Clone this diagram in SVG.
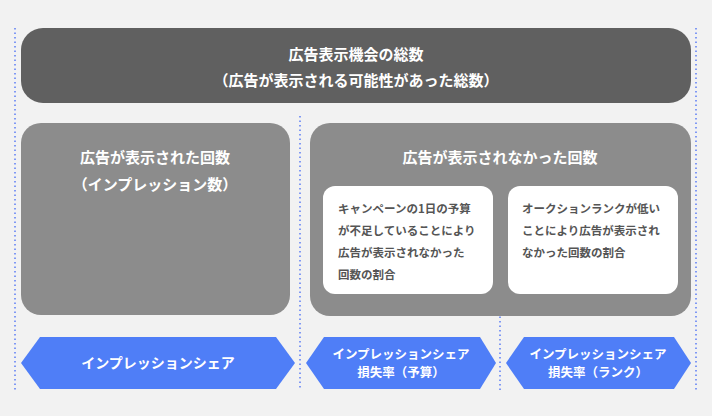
<svg xmlns="http://www.w3.org/2000/svg" width="712" height="416" viewBox="0 0 712 416">
<style>
text{font-family:"Noto Sans CJK JP","Noto Sans",sans-serif;font-weight:bold}
.w{fill:#fff}
.c{text-anchor:middle}
.g{fill:#555;font-size:11.5px}
.dot{stroke:#5b7cf5;stroke-width:1.5;stroke-dasharray:1.5 3;fill:none}
.hex{fill:#4f7ef7}
</style>
<rect width="712" height="416" fill="#f2f2f2"/>
<g id="guides">
<line class="dot" x1="15" y1="28" x2="15" y2="390"/>
<line class="dot" x1="300" y1="116" x2="300" y2="390"/>
<line class="dot" x1="500" y1="186" x2="500" y2="390"/>
<line class="dot" x1="696" y1="28" x2="696" y2="390"/>
</g>
<g id="total">
<rect x="21" y="28" width="670" height="75" rx="22" fill="#606060"/>
<text class="w c" x="356" y="60" font-size="15">広告表示機会の総数</text>
<text class="w c" x="356" y="86" font-size="15">（広告が表示される可能性があった総数）</text>
</g>
<g id="shown">
<rect x="21" y="123" width="269" height="192" rx="20" fill="#8c8c8c"/>
<text class="w c" x="155" y="163" font-size="15">広告が表示された回数</text>
<text class="w c" x="155" y="190" font-size="15">（インプレッション数）</text>
</g>
<g id="notshown">
<rect x="310" y="123" width="381" height="193" rx="20" fill="#8c8c8c"/>
<text class="w c" x="500" y="163" font-size="15">広告が表示されなかった回数</text>
</g>
<g id="budget">
<rect x="323" y="186" width="170" height="108" rx="12" fill="#fff"/>
<text class="g" x="338" y="213">キャンペーンの1日の予算</text>
<text class="g" x="338" y="235">が不足していることにより</text>
<text class="g" x="338" y="257">広告が表示されなかった</text>
<text class="g" x="338" y="279">回数の割合</text>
</g>
<g id="rank">
<rect x="508" y="186" width="170" height="108" rx="12" fill="#fff"/>
<text class="g" x="522" y="213">オークションランクが低い</text>
<text class="g" x="522" y="235">ことにより広告が表示され</text>
<text class="g" x="522" y="257">なかった回数の割合</text>
</g>
<g id="is">
<polygon class="hex" points="21,363 40,337 276,337 295,363 276,389 40,389"/>
<text class="w c" x="158" y="368" font-size="14">インプレッションシェア</text>
</g>
<g id="lost-budget">
<polygon class="hex" points="306,363 324,337 480,337 496,363 480,389 324,389"/>
<text class="w c" x="401" y="359" font-size="12.5">インプレッションシェア</text>
<text class="w c" x="401" y="377" font-size="12.5">損失率（予算）</text>
</g>
<g id="lost-rank">
<polygon class="hex" points="506,363 524,337 674,337 691,363 674,389 524,389"/>
<text class="w c" x="598" y="359" font-size="12.5">インプレッションシェア</text>
<text class="w c" x="598" y="377" font-size="12.5">損失率（ランク）</text>
</g>
<g id="connectors"></g>
</svg>
